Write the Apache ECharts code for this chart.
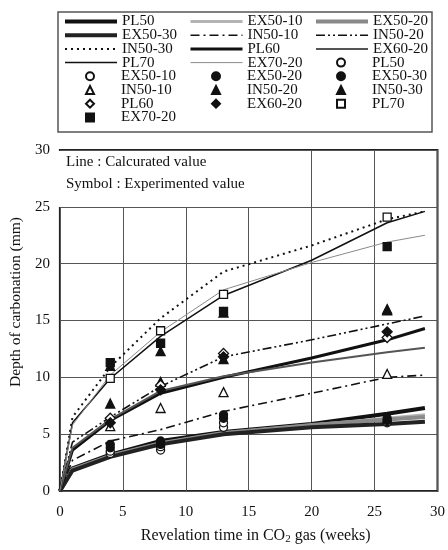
<!DOCTYPE html>
<html>
<head>
<meta charset="utf-8">
<script src="https://cdn.jsdelivr.net/npm/echarts@6/dist/echarts.min.js"></script>
<style>
  html, body { margin: 0; padding: 0; background: #fff; }
  #chart { width: 448px; height: 550px; }
</style>
</head>
<body>
<div id="chart"></div>
<script>
// Exposure times (weeks) at which the calculated curves are evaluated
const calcWeeks = [0, 1, 4, 8, 13, 20, 26, 29];

// Calculated carbonation depth (mm)
const calcPL50   = [0, 2.0, 3.2, 4.4, 5.2, 5.9, 6.8, 7.3];
const calcEX50_10 = [0, 1.9, 3.1, 4.2, 5.1, 5.8, 6.4, 6.7];
const calcEX50_20 = [0, 1.9, 3.1, 4.2, 5.1, 5.8, 6.3, 6.5];
const calcEX50_30 = [0, 1.8, 3.0, 4.1, 5.0, 5.6, 5.9, 6.1];
const calcIN50_10 = [0, 2.7, 4.4, 5.4, 7.0, 8.6, 10.0, 10.2];
const calcIN50_20 = [0, 4.3, 6.5, 9.2, 11.8, 13.3, 14.7, 15.4];
const calcIN50_30 = [0, 6.5, 10.9, 15.2, 19.3, 21.6, 23.9, 24.6];
const calcPL60   = [0, 3.6, 6.2, 8.6, 10.0, 11.7, 13.3, 14.3];
const calcEX60_20 = [0, 3.8, 6.3, 8.8, 10.1, 11.3, 12.2, 12.6];
const calcPL70   = [0, 6.0, 9.9, 13.6, 17.2, 20.3, 23.6, 24.6];
const calcEX70_20 = [0, 5.8, 10.2, 14.0, 17.7, 20.1, 21.9, 22.5];

// Test ages (weeks) of the measured values
const testWeeks = [4, 8, 13, 26];

// Measured carbonation depth (mm)
const expPL50   = [3.3, 3.6, 5.6, 6.0];
const expEX50_10 = [3.5, 3.9, 6.0, 6.1];
const expEX50_20 = [3.8, 4.1, 6.4, 6.2];
const expEX50_30 = [4.1, 4.4, 6.7, 6.4];
const expIN50_10 = [5.7, 7.3, 8.7, 10.3];
const expIN50_20 = [7.7, 9.6, 11.6, 15.9];
const expIN50_30 = [11.0, 12.3, 15.7, 16.0];
const expPL60   = [6.4, 9.3, 12.1, 13.5];
const expEX60_20 = [6.0, 8.9, 11.8, 14.0];
const expPL70   = [9.9, 14.1, 17.3, 24.1];
const expEX70_20 = [11.3, 13.0, 15.8, 21.5];

// Axis ticks
const xTicks = { min: 0, max: 30, interval: 5 };
const yTicks = { min: 0, max: 30, interval: 5 };

const SERIF = '"Liberation Serif", "Times New Roman", serif';

const pairs = (xs, ys) => xs.map((x, i) => [x, ys[i]]);

// Calculated curves: name, values, colour, width, dash
const lineDefs = [
  ['PL50', calcPL50, '#111', 4, 'solid'],
  ['EX50-10', calcEX50_10, '#b4b4b4', 3, 'solid'],
  ['EX50-20', calcEX50_20, '#8a8a8a', 4, 'solid'],
  ['EX50-30', calcEX50_30, '#222', 4, 'solid'],
  ['IN50-10', calcIN50_10, '#111', 1.6, [9, 4, 2, 4]],
  ['IN50-20', calcIN50_20, '#111', 1.6, [9, 3, 2, 3, 2, 3]],
  ['IN50-30', calcIN50_30, '#111', 2, [2, 4]],
  ['PL60', calcPL60, '#111', 3, 'solid'],
  ['EX60-20', calcEX60_20, '#555', 2, 'solid'],
  ['PL70', calcPL70, '#111', 1.5, 'solid'],
  ['EX70-20', calcEX70_20, '#8a8a8a', 1, 'solid']
];

// Measured points: name, values, symbol, filled
const pointDefs = [
  ['PL50', expPL50, 'circle', false],
  ['EX50-10', expEX50_10, 'circle', false],
  ['EX50-20', expEX50_20, 'circle', true],
  ['EX50-30', expEX50_30, 'circle', true],
  ['IN50-10', expIN50_10, 'triangle', false],
  ['IN50-20', expIN50_20, 'triangle', true],
  ['IN50-30', expIN50_30, 'triangle', true],
  ['PL60', expPL60, 'diamond', false],
  ['EX60-20', expEX60_20, 'diamond', true],
  ['PL70', expPL70, 'rect', false],
  ['EX70-20', expEX70_20, 'rect', true]
];

// Point series carry a trailing space so their legend entries stay separate from the curves
const ptName = n => n + ' ';

const series = [];
lineDefs.forEach(([name, vals, color, width, dash]) => {
  series.push({
    name: name,
    type: 'line',
    data: pairs(calcWeeks, vals),
    symbol: 'none',
    smooth: false,
    lineStyle: { color: color, width: width, type: dash },
    itemStyle: { color: color },
    z: 3
  });
});
pointDefs.forEach(([name, vals, sym, filled]) => {
  series.push({
    name: ptName(name),
    type: 'scatter',
    data: pairs(testWeeks, vals),
    symbol: sym,
    symbolSize: sym === 'triangle' ? 9 : (sym === 'diamond' ? 10 : 8),
    symbolKeepAspect: true,
    itemStyle: {
      color: filled ? '#111' : '#fff',
      borderColor: '#111',
      borderWidth: 1.3,
      opacity: 1
    },
    z: 4
  });
});

// Legend grid: three columns, rows 13.7 px apart, filled in reading order
const ROW = 13.7;
const TEXT_H = 15;                  // height of one legend item box
const LEGEND_TOP = 14;
const colLeft = [63, 189, 314];     // left edge of the line samples
const SAMPLE_W = 52;
const legendText = { fontFamily: SERIF, fontSize: 15, color: '#111', lineHeight: ROW };

const entries = lineDefs.map(d => ({ kind: 'line', name: d[0], width: d[3] }))
  .concat(pointDefs.map(d => ({ kind: 'point', name: ptName(d[0]) })));

const legends = [];
for (let c = 0; c < 3; c++) {
  const colEntries = entries.filter((e, i) => i % 3 === c);
  const lines = colEntries.filter(e => e.kind === 'line');
  const points = colEntries.filter(e => e.kind === 'point');
  legends.push({
    data: lines.map(e => ({ name: e.name, itemStyle: { opacity: 0 }, lineStyle: { width: e.width } })),
    orient: 'vertical',
    left: colLeft[c], top: LEGEND_TOP, padding: 0,
    itemWidth: SAMPLE_W, itemHeight: 8, itemGap: ROW - TEXT_H,
    selectedMode: false,
    textStyle: legendText
  });
  // Point entries: symbol centred under the line samples, text aligned with the column
  legends.push({
    data: points.map(e => e.name),
    orient: 'vertical',
    left: colLeft[c] + SAMPLE_W / 2 - 4, top: LEGEND_TOP + lines.length * ROW, padding: 0,
    itemWidth: 8, itemHeight: 8, itemGap: ROW - TEXT_H,
    selectedMode: false,
    textStyle: Object.assign({}, legendText, { padding: [0, 0, 0, SAMPLE_W / 2 - 4] })
  });
}

const chart = echarts.init(document.getElementById('chart'), null, { renderer: 'canvas' });
chart.setOption({
  backgroundColor: '#fff',
  animation: false,
  legend: legends,
  grid: {
    left: 51, right: 7, top: 150, bottom: 52.5,
    show: true, borderColor: '#222', borderWidth: 2, backgroundColor: 'transparent'
  },
  xAxis: {
    type: 'value',
    min: xTicks.min, max: xTicks.max, interval: xTicks.interval,
    name: 'Revelation time in CO{sub|2} gas (weeks)',
    nameLocation: 'middle',
    nameGap: 35,
    nameTextStyle: {
      fontFamily: SERIF, fontSize: 16, color: '#111', padding: [0, 0, 0, 14],
      rich: { sub: { fontFamily: SERIF, fontSize: 11, color: '#111', verticalAlign: 'bottom', padding: [8, 0, 0, 0] } }
    },
    axisLine: { show: false },
    axisTick: { show: false },
    axisLabel: { fontFamily: SERIF, fontSize: 15, color: '#111', margin: 14 },
    splitLine: { show: true, lineStyle: { color: '#555', width: 1 } }
  },
  yAxis: {
    type: 'value',
    min: yTicks.min, max: yTicks.max, interval: yTicks.interval,
    name: 'Depth of carbonation (mm)',
    nameLocation: 'middle',
    nameGap: 28,
    nameTextStyle: { fontFamily: SERIF, fontSize: 15.5, color: '#111', padding: [0, 0, 0, 37] },
    axisLine: { show: false },
    axisTick: { show: false },
    axisLabel: { fontFamily: SERIF, fontSize: 15, color: '#111', margin: 10 },
    splitLine: { show: true, lineStyle: { color: '#555', width: 1 } }
  },
  graphic: [
    {
      type: 'rect', z: 1, silent: true,
      shape: { x: 58, y: 12, width: 374, height: 120 },
      style: { fill: 'none', stroke: '#555', lineWidth: 1.5 }
    },
    {
      type: 'rect', z: 1, silent: true,
      shape: { x: 52, y: 151, width: 256, height: 56 },
      style: { fill: '#fff' }
    },
    {
      type: 'text', z: 5, silent: true, left: 66, top: 155,
      style: { text: 'Line : Calcurated value', font: '15px ' + SERIF, fill: '#111' }
    },
    {
      type: 'text', z: 5, silent: true, left: 66, top: 177,
      style: { text: 'Symbol : Experimented value', font: '15px ' + SERIF, fill: '#111' }
    }
  ],
  series: series
});
</script>
</body>
</html>
